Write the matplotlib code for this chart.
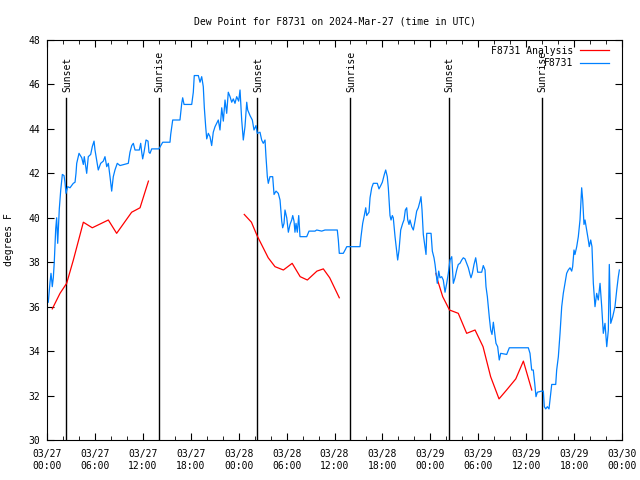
import numpy as np
import matplotlib
matplotlib.use("Agg")
import matplotlib.pyplot as plt

plt.rcParams['font.family'] = ['DejaVu Sans Mono']
plt.rcParams['font.size'] = 7

# hours after 2024-03-27 00:00 UTC
obs_h = [0.16, 0.38, 0.5, 0.59, 0.66, 0.79, 0.91, 1.09, 1.21, 1.34, 1.42, 1.54, 1.72, 1.84, 1.92,
         2.13, 2.25, 2.38, 2.59, 2.88, 3.09, 3.29, 3.51, 3.63, 3.72, 4.01, 4.35, 4.55, 4.67, 4.97,
         5.17, 5.47, 5.67, 5.89, 6.01, 6.22, 6.42, 6.72, 7.05, 7.26, 7.48, 7.68, 7.89, 8.1, 8.3,
         8.51, 8.8, 9.14, 10.18, 10.39, 10.61, 10.81, 11.02, 11.56, 11.73, 11.86, 11.98, 12.15,
         12.4, 12.65, 12.77, 12.9, 13.11, 14.02, 14.49, 15.4, 15.49, 15.74, 16.65, 16.87, 16.99,
         17.16, 18.12, 18.32, 18.44, 18.95, 19.16, 19.37, 19.57, 19.7, 19.87, 20.0, 20.2, 20.41,
         20.62, 20.82, 21.04, 21.45, 21.66, 21.88, 22.08, 22.29, 22.5, 22.7, 22.92, 23.13, 23.33,
         23.54, 23.75, 24.0, 24.17, 24.38, 24.58, 24.79, 25.01, 25.13, 25.42, 25.71, 25.92, 26.17,
         26.33, 26.67, 26.88, 27.08, 27.3, 27.42, 27.59, 27.71, 27.92, 28.26, 28.43, 28.68, 28.96,
         29.18, 29.39, 29.51, 29.68, 29.8, 30.02, 30.22, 30.43, 30.64, 30.77, 30.93, 31.05, 31.18,
         31.34, 31.52, 31.68, 32.52, 32.81, 33.56, 33.77, 34.4, 34.81, 36.35, 36.48, 36.6, 37.1,
         37.4, 37.53, 39.19, 39.32, 39.53, 39.73, 39.91, 40.03, 40.32, 40.45, 40.66, 40.86, 41.36,
         41.57, 41.79, 41.99, 42.24, 42.41, 42.61, 42.74, 42.95, 43.08, 43.24, 43.36, 43.58, 43.79,
         43.91, 44.08, 44.29, 44.54, 44.7, 44.87, 45.04, 45.17, 45.33, 45.45, 45.67, 45.87, 46.08,
         46.29, 46.49, 46.71, 46.83, 46.96, 47.12, 47.33, 47.46, 47.55, 48.09, 48.25, 48.46, 48.59,
         48.87, 49.05, 49.21, 49.42, 49.62, 49.84, 50.05, 50.25, 50.46, 50.68, 50.88, 51.09, 51.3,
         51.5, 51.71, 51.93, 52.13, 52.34, 52.55, 52.76, 52.97, 53.09, 53.26, 53.47, 53.68, 53.81,
         53.93, 54.43, 54.63, 54.85, 54.97, 55.14, 55.26, 55.39, 55.56, 55.72, 55.89, 56.06, 56.22,
         56.43, 56.63, 56.81, 57.56, 57.89, 60.27, 60.48, 60.69, 60.89, 61.07, 61.23, 61.4, 61.95,
         62.15, 62.27, 62.45, 62.65, 62.86, 63.07, 63.2, 63.7, 63.82, 64.03, 64.24, 64.45, 64.65,
         64.86, 65.07, 65.27, 65.49, 65.7, 65.82, 65.99, 66.11, 66.33, 66.53, 66.74, 66.87, 66.95,
         67.08, 67.24, 67.37, 67.58, 67.78, 67.9, 68.08, 68.24, 68.41, 68.62, 68.83, 69.03, 69.25,
         69.46, 69.66, 69.87, 70.09, 70.29, 70.41, 70.59, 70.84, 71.12, 71.34, 71.54, 71.67]
obs_v = [36.2, 37.1, 37.5, 37.2, 36.9, 37.3, 38.0, 39.5, 40.0, 38.85, 39.5, 40.4, 41.25, 41.7, 41.95,
         41.9, 41.6, 41.1, 41.4, 41.35, 41.45, 41.55, 41.6, 42.0, 42.45, 42.9, 42.7, 42.4, 42.75, 42.0,
         42.75, 42.85, 43.2, 43.45, 43.05, 42.6, 42.15, 42.45, 42.55, 42.75, 42.3, 42.45, 41.85, 41.2, 41.85,
         42.15, 42.45, 42.35, 42.45, 42.95, 43.25, 43.35, 43.05, 43.05, 43.35, 42.95, 42.65, 42.95,
         43.5, 43.45, 42.95, 42.9, 43.1, 43.1, 43.4, 43.4, 43.75, 44.4, 44.4, 45.15, 45.4,
         45.1, 45.1, 45.65, 46.4, 46.4, 46.1, 46.35, 45.9, 44.95, 44.1, 43.55, 43.8, 43.65,
         43.25, 43.85, 44.1, 44.4, 43.95, 44.95, 44.35, 45.3, 44.7, 45.65, 45.45, 45.2, 45.35,
         45.15, 45.45, 45.25, 45.75, 44.4, 43.5, 44.1, 45.2, 44.85, 44.6, 44.4, 43.95, 44.15,
         43.8, 43.85, 43.5, 43.35, 43.5, 42.75, 41.85, 41.55, 41.85, 41.85, 41.05, 41.2, 41.1,
         40.8, 39.85, 39.55, 39.75, 40.35, 40.0, 39.35, 39.7, 39.9, 40.1, 39.85, 39.35, 39.75,
         39.35, 40.1, 39.15, 39.15, 39.4, 39.4, 39.45, 39.4, 39.45, 39.45, 39.0, 38.4, 38.4,
         38.6, 38.7, 38.7, 39.15, 39.75, 40.1, 40.45, 40.1, 40.25, 40.9, 41.35, 41.55, 41.55,
         41.3, 41.45, 41.6, 41.95, 42.15, 41.85, 41.35, 40.1, 39.9, 40.1, 40.0, 39.15, 38.5,
         38.1, 38.55, 39.45, 39.75, 39.9, 40.35, 40.45, 39.9, 39.7, 39.9, 39.6, 39.45, 39.85,
         40.3, 40.45, 40.75, 40.95, 40.35, 39.25, 38.7, 38.35, 39.3, 39.3, 38.5, 38.2, 37.9,
         37.05, 37.6, 37.3, 37.35, 37.2, 36.65, 37.05, 37.5, 38.1, 38.25, 37.05, 37.3, 37.65,
         37.9, 37.95, 38.1, 38.2, 38.15, 37.95, 37.75, 37.45, 37.3, 37.5, 37.9, 38.2, 37.9,
         37.55, 37.55, 37.85, 37.65, 36.9, 36.45, 36.0, 35.5, 34.95, 34.75, 35.3, 34.8, 34.35,
         34.2, 33.6, 33.9, 33.85, 34.15, 34.15, 33.9, 33.15, 33.15, 32.55, 31.95, 32.15, 32.2,
         32.2, 31.5, 31.4, 31.5, 31.4, 32.1, 32.5, 32.5, 33.15, 33.75, 34.8, 36.0, 36.6,
         37.05, 37.5, 37.65, 37.75, 37.6, 37.8, 38.55, 38.35, 38.7, 39.15, 39.9, 40.8, 41.35,
         40.8, 39.7, 39.9, 39.45, 39.0, 38.7, 39.0, 38.7, 37.05, 36.0, 36.6, 36.3, 37.05,
         36.0, 34.8, 35.25, 34.2, 34.95, 37.9, 35.25, 35.55, 36.0, 36.75, 37.35, 37.65]

# analysis (three pieces)
ana1_h = [0.66, 1.63, 2.46, 3.3, 4.55, 5.67, 7.68, 8.72, 10.6, 11.65, 12.7]
ana1_v = [35.9, 36.6, 37.05, 38.1, 39.8, 39.55, 39.9, 39.3, 40.25, 40.45, 41.65]
ana2_h = [24.7, 25.6, 26.3, 27.7, 28.55, 29.6, 30.7, 31.7, 32.6, 33.8, 34.6, 35.4, 36.6]
ana2_v = [40.15, 39.8, 39.2, 38.2, 37.8, 37.65, 37.95, 37.35, 37.2, 37.6, 37.7, 37.3, 36.4]
ana3_h = [48.7, 48.9, 49.55, 50.4, 51.5, 52.55, 53.6, 54.6, 55.55, 56.6, 57.55, 58.7, 59.65, 60.7]
ana3_v = [37.5, 37.2, 36.45, 35.85, 35.7, 34.8, 34.95, 34.2, 32.85, 31.85, 32.25, 32.75, 33.55, 32.25]

sun_h = [2.42, 14.02, 26.33, 37.98, 50.28, 61.98]
sun_lbl = ['Sunset', 'Sunrise', 'Sunset', 'Sunrise', 'Sunset', 'Sunrise']

tick_lbls = ['03/27\n00:00', '03/27\n06:00', '03/27\n12:00', '03/27\n18:00',
             '03/28\n00:00', '03/28\n06:00', '03/28\n12:00', '03/28\n18:00',
             '03/29\n00:00', '03/29\n06:00', '03/29\n12:00', '03/29\n18:00',
             '03/30\n00:00']

fig = plt.figure(figsize=(6.4, 4.8), dpi=100)
ax = fig.add_axes([47/640, 40/480, 575/640, 400/480])

# sunrise / sunset markers
for h, lbl in zip(sun_h, sun_lbl):
    ax.plot([h, h], [30, 45.4], color='black', lw=1.0)
    ax.text(h + 0.1, 45.68, lbl, rotation=90, ha='center', va='bottom', fontsize=7)

ana_h = ana1_h + [np.nan] + ana2_h + [np.nan] + ana3_h
ana_v = ana1_v + [np.nan] + ana2_v + [np.nan] + ana3_v
ax.plot(ana_h, ana_v, color='#ff0000', lw=0.9, label='F8731 Analysis')
ax.plot(obs_h, obs_v, color='#0080ff', lw=0.9, label='F8731')

ax.set_xlim(0, 72)
ax.set_ylim(30, 48)
ax.set_xticks(np.arange(0, 73, 6))
ax.set_xticklabels(tick_lbls)
ax.set_xticks(np.arange(0, 73, 2), minor=True)
ax.set_yticks(np.arange(30, 49, 2))
ax.tick_params(which='both', direction='in', top=True, right=True, labelsize=7)
ax.tick_params(which='major', length=5)
ax.tick_params(which='minor', length=3)
ax.tick_params(axis='x', pad=6.5)
ax.tick_params(axis='y', pad=5)
for t in ax.get_xticklabels():
    t.set_linespacing(1.25)

ax.set_title('Dew Point for F8731 on 2024-Mar-27 (time in UTC)', fontsize=7, pad=11)
ax.set_ylabel('degrees F', fontsize=7)
ax.yaxis.set_label_coords(-33/575, 0.5)

ax.legend(loc='upper right', bbox_to_anchor=((609 - 47) / 575, 0.986), frameon=False,
          markerfirst=False, fontsize=7, handlelength=3.0, handletextpad=0.7,
          borderpad=0, borderaxespad=0, labelspacing=0.25)

fig.savefig('out.png', dpi=100)
